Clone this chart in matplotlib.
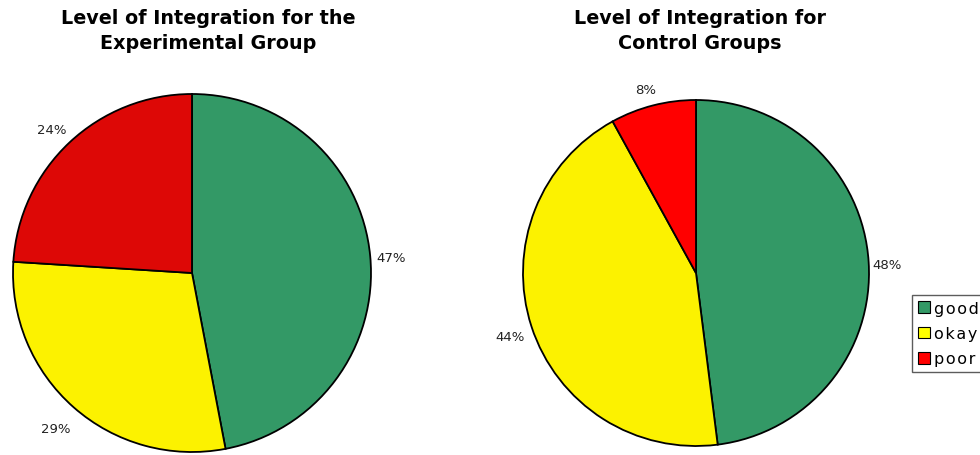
import matplotlib.pyplot as plt
import matplotlib.transforms as mtransforms
from matplotlib.patches import Patch

plt.rcParams['font.family'] = ['DejaVu Sans']

# level of integration, shares in percent
categories = ["good", "okay", "poor"]
experimental = [47, 29, 24]
control = [48, 44, 8]

exp_colors = ["#339966", "#FCF200", "#DD0806"]
ctl_colors = ["#339966", "#FCF200", "#FF0000"]
legend_colors = ["#339966", "#FFFF00", "#FF0000"]

W, H = 980, 456
fig = plt.figure(figsize=(W / 100, H / 100), dpi=100)


def pie_axes(cx, cy, r):
    # axes box in pixel terms -> figure fractions
    return fig.add_axes([(cx - r) / W, (H - cy - r) / H, 2 * r / W, 2 * r / H])


def draw_pie(ax, values, colors, dist):
    _, texts = ax.pie(values, colors=colors, startangle=90, counterclock=False,
                      labels=[f"{v}%" for v in values], labeldistance=dist,
                      wedgeprops=dict(edgecolor="black", linewidth=1.3),
                      textprops=dict(fontsize=9.5, color="#222222",
                                     ha="center", va="center"))
    # percent labels sit a few pixels lower
    shifted = mtransforms.offset_copy(ax.transData, fig=fig, x=-2, y=-4, units="dots")
    for t in texts:
        t.set_transform(shifted)
    ax.set_xlim(-1, 1)
    ax.set_ylim(-1, 1)
    ax.set_aspect("equal")
    ax.axis("off")


ax1 = pie_axes(192, 274, 179)
draw_pie(ax1, experimental, exp_colors, 1.13)

ax2 = pie_axes(696, 274, 173)
draw_pie(ax2, control, ctl_colors, 1.12)

fig.text(208 / W, 1 - 31 / H, "Level of Integration for the\nExperimental Group",
         ha="center", va="center", fontsize=13.8, fontweight="bold", linespacing=1.4)
fig.text(700 / W, 1 - 31 / H, "Level of Integration for\nControl Groups",
         ha="center", va="center", fontsize=13.8, fontweight="bold", linespacing=1.4)

# slightly tracked legend text
spaced = ["\u200a".join(c) for c in categories]
handles = [Patch(facecolor=c, edgecolor="black", linewidth=0.8) for c in legend_colors]
leg = fig.legend(handles, spaced, loc="upper left",
                 bbox_to_anchor=(912 / W, 1 - 296 / H), fontsize=11.5,
                 handlelength=0.75, handleheight=0.75, handletextpad=0.25,
                 labelspacing=0.65, borderpad=0.35, borderaxespad=0,
                 fancybox=False, frameon=True)
leg.get_frame().set_edgecolor("#333333")
leg.get_frame().set_linewidth(1.0)

fig.savefig("out.png", dpi=100)
